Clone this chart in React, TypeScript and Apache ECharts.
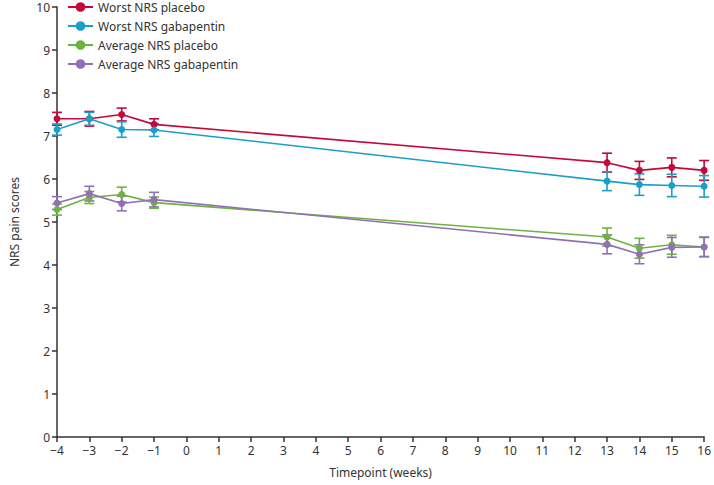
import React, { useEffect, useRef } from "react";
import * as echarts from "echarts";

const weeks = [-4, -3, -2, -1, 13, 14, 15, 16];
const worstPlacebo = [7.4, 7.4, 7.5, 7.27, 6.38, 6.2, 6.27, 6.2];
const worstPlaceboErr = [0.15, 0.17, 0.15, 0.13, 0.22, 0.21, 0.22, 0.23];
const worstGaba = [7.15, 7.4, 7.15, 7.14, 5.95, 5.87, 5.85, 5.83];
const worstGabaErr = [0.13, 0.15, 0.18, 0.15, 0.22, 0.25, 0.26, 0.25];
const avgPlacebo = [5.29, 5.57, 5.64, 5.45, 4.65, 4.39, 4.47, 4.42];
const avgPlaceboErr = [0.13, 0.14, 0.17, 0.13, 0.21, 0.23, 0.22, 0.22];
const avgGaba = [5.44, 5.66, 5.43, 5.52, 4.48, 4.25, 4.41, 4.42];
const avgGabaErr = [0.15, 0.17, 0.17, 0.17, 0.22, 0.22, 0.23, 0.23];

const names = [
  "Worst NRS placebo",
  "Worst NRS gabapentin",
  "Average NRS placebo",
  "Average NRS gabapentin",
];
const colors = ["#c4083b", "#1a9fc9", "#6db33f", "#9170b6"];
const values = [worstPlacebo, worstGaba, avgPlacebo, avgGaba];
const errors = [worstPlaceboErr, worstGabaErr, avgPlaceboErr, avgGabaErr];

const FONT = "Noto Sans";
const FS = 12;

export default function App() {
  const ref = useRef<HTMLDivElement>(null);
  useEffect(() => {
    if (!ref.current) return;
    const chart = echarts.init(ref.current, undefined, { renderer: "svg" });
    const series: any[] = [];
    values.forEach((vals, i) => {
      const color = colors[i];
      series.push({
        name: names[i] + " error",
        type: "custom",
        z: 2,
        silent: true,
        data: weeks.map((w, j) => [w, vals[j] - errors[i][j], vals[j] + errors[i][j]]),
        renderItem: (params: any, api: any) => {
          const x = api.value(0);
          const lo = api.coord([x, api.value(1)]);
          const hi = api.coord([x, api.value(2)]);
          const cw = 5;
          const st = { stroke: color, lineWidth: 1.6 };
          return {
            type: "group",
            children: [
              { type: "line", shape: { x1: lo[0], y1: lo[1], x2: hi[0], y2: hi[1] }, style: st },
              { type: "line", shape: { x1: lo[0] - cw, y1: lo[1], x2: lo[0] + cw, y2: lo[1] }, style: st },
              { type: "line", shape: { x1: hi[0] - cw, y1: hi[1], x2: hi[0] + cw, y2: hi[1] }, style: st },
            ],
          };
        },
      });
      series.push({
        name: names[i],
        type: "line",
        z: 3,
        data: weeks.map((w, j) => [w, vals[j]]),
        symbol: "circle",
        symbolSize: 7,
        itemStyle: { color },
        lineStyle: { color, width: 1.6 },
      });
    });
    chart.setOption({
      animation: false,
      textStyle: { fontFamily: FONT },
      grid: { left: 49, right: 7, top: 7, bottom: 48, containLabel: false },
      legend: {
        data: names,
        orient: "vertical",
        left: 67,
        top: 1,
        padding: 0,
        itemWidth: 25,
        itemHeight: 12,
        itemGap: 7,
        textStyle: { fontFamily: FONT, fontSize: FS, color: "#333", lineHeight: 12 },
      },
      xAxis: {
        type: "value",
        min: -4,
        max: 16,
        interval: 1,
        name: "Timepoint (weeks)",
        nameLocation: "middle",
        nameGap: 29,
        nameTextStyle: { fontFamily: FONT, fontSize: FS, color: "#333" },
        axisLine: { lineStyle: { color: "#333", width: 1.5 } },
        axisTick: { show: true, length: 5, lineStyle: { color: "#333", width: 1.5 } },
        axisLabel: { fontFamily: FONT, fontSize: FS, color: "#333", margin: 7, formatter: (v: number) => (v < 0 ? "\u2212" + Math.abs(v) : String(v)) },
        splitLine: { show: false },
      },
      yAxis: {
        type: "value",
        min: 0,
        max: 10,
        interval: 1,
        name: "NRS pain scores",
        nameLocation: "middle",
        nameGap: 37,
        nameTextStyle: { fontFamily: FONT, fontSize: FS, color: "#333" },
        axisLine: { show: true, onZero: false, lineStyle: { color: "#333", width: 1.5 } },
        axisTick: { show: true, length: 5, lineStyle: { color: "#333", width: 1.5 } },
        axisLabel: { fontFamily: FONT, fontSize: FS, color: "#333", margin: 7, lineHeight: 12 },
        splitLine: { show: false },
      },
      series,
    });
    return () => chart.dispose();
  }, []);
  return (
    <div
      ref={ref}
      style={{ position: "absolute", left: 0, top: 0, width: 714, height: 485 }}
    />
  );
}
